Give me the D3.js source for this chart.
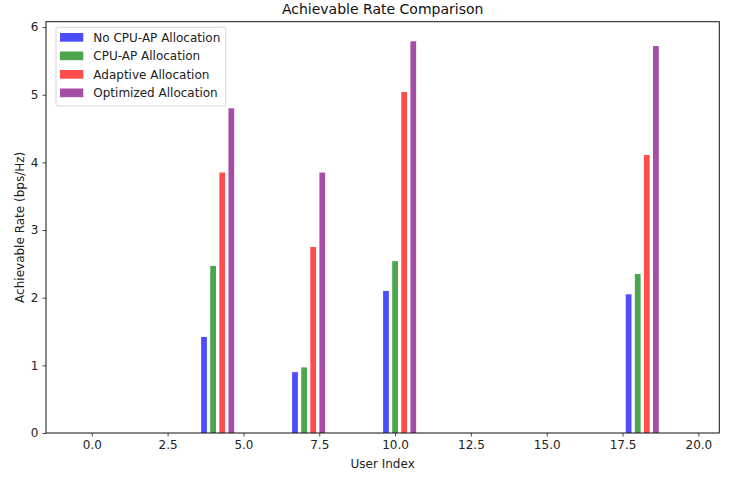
<!DOCTYPE html>
<html>
<head>
<meta charset="utf-8">
<script src="https://cdn.jsdelivr.net/npm/d3@7"></script>
<style>
  body { margin: 0; background: #fff; }
  svg { font-family: "DejaVu Sans", sans-serif; }
</style>
</head>
<body>
<script>
// DATA
const users = [4, 7, 10, 18];
const seriesNames = ['No CPU-AP Allocation', 'CPU-AP Allocation', 'Adaptive Allocation', 'Optimized Allocation'];
const noCpuAp = [1.42, 0.90, 2.10, 2.05];
const cpuAp = [2.47, 0.97, 2.54, 2.35];
const adaptive = [3.85, 2.75, 5.04, 4.11];
const optimized = [4.80, 3.85, 5.79, 5.72];
const xTicks = [0, 2.5, 5, 7.5, 10, 12.5, 15, 17.5, 20];
const yTicks = [0, 1, 2, 3, 4, 5, 6];

// CONSTANTS
const WIDTH = 741;
const HEIGHT = 477;
const LEFT = 46, RIGHT = 719.3, TOP = 21.7, BOTTOM = 433;
const COLORS = ['rgb(77,77,255)', 'rgb(77,166,77)', 'rgb(255,77,77)', 'rgb(166,77,166)'];
const OFFSET = 0.3;
const BAR_W = 0.19;
const FONT = '12px';

const allSeries = [noCpuAp, cpuAp, adaptive, optimized];

const X_SCALE = d3.scaleLinear().domain([-1.51, 20.69]).range([LEFT, RIGHT]);
const Y_SCALE = d3.scaleLinear().domain([0, 6.08]).range([BOTTOM, TOP]);

const svg = d3.select('body')
  .append('svg')
  .attr('width', WIDTH)
  .attr('height', HEIGHT);

// BARS
allSeries.forEach((vals, k) => {
  svg.append('g')
    .selectAll('rect')
    .data(users.map((u, i) => ({ x: u + (k - 1) * OFFSET, v: vals[i] })))
    .enter()
    .append('rect')
    .attr('x', d => X_SCALE(d.x - BAR_W / 2))
    .attr('width', d => X_SCALE(d.x + BAR_W / 2) - X_SCALE(d.x - BAR_W / 2))
    .attr('y', d => Y_SCALE(d.v))
    .attr('height', d => Y_SCALE(0) - Y_SCALE(d.v))
    .attr('fill', COLORS[k]);
});

// AXES
const X_AXIS = d3.axisBottom(X_SCALE).tickValues(xTicks).tickFormat(d3.format('.1f')).tickSizeOuter(0).tickSize(3.5).tickPadding(4);
const Y_AXIS = d3.axisLeft(Y_SCALE).tickValues(yTicks).tickFormat(d3.format('d')).tickSizeOuter(0).tickSize(3.5).tickPadding(4);

const gx = svg.append('g')
  .attr('transform', 'translate(0,' + BOTTOM + ')')
  .call(X_AXIS);
const gy = svg.append('g')
  .attr('transform', 'translate(' + LEFT + ',0)')
  .call(Y_AXIS);
[gx, gy].forEach(g => {
  g.select('.domain').remove();
  g.selectAll('text').style('font-size', FONT).style('font-family', '"DejaVu Sans", sans-serif').attr('fill', '#222');
  g.selectAll('line').attr('stroke', '#222').attr('stroke-width', 0.8);
});

// FRAME
svg.append('rect')
  .attr('x', LEFT).attr('y', TOP)
  .attr('width', RIGHT - LEFT).attr('height', BOTTOM - TOP)
  .attr('fill', 'none').attr('stroke', '#111').attr('stroke-width', 1);

// TITLES
svg.append('text')
  .attr('x', (LEFT + RIGHT) / 2).attr('y', 14)
  .attr('text-anchor', 'middle')
  .style('font-size', '14px')
  .attr('fill', '#111')
  .text('Achievable Rate Comparison');

svg.append('text')
  .attr('x', (LEFT + RIGHT) / 2).attr('y', 468)
  .attr('text-anchor', 'middle')
  .style('font-size', FONT)
  .attr('fill', '#222')
  .text('User Index');

svg.append('text')
  .attr('transform', 'translate(24,' + ((TOP + BOTTOM) / 2) + ') rotate(-90)')
  .attr('text-anchor', 'middle')
  .style('font-size', FONT)
  .attr('fill', '#222')
  .text('Achievable Rate (bps/Hz)');

// LEGEND
const legend = svg.append('g').attr('transform', 'translate(56,27.3)');
legend.append('rect')
  .attr('width', 169.7).attr('height', 78.7)
  .attr('rx', 2)
  .attr('fill', 'rgba(255,255,255,0.8)')
  .attr('stroke', '#ccc').attr('stroke-width', 0.8);
const items = legend.selectAll('g.item')
  .data(seriesNames)
  .enter().append('g')
  .attr('class', 'item')
  .attr('transform', (d, i) => 'translate(0,' + (10 + i * 18.5) + ')');
items.append('rect')
  .attr('x', 4).attr('y', -4.3)
  .attr('width', 23.3).attr('height', 8.7)
  .attr('fill', (d, i) => COLORS[i]);
items.append('text')
  .attr('x', 37.3).attr('dy', '0.35em')
  .style('font-size', FONT)
  .attr('fill', '#222')
  .text(d => d);
</script>
</body>
</html>
